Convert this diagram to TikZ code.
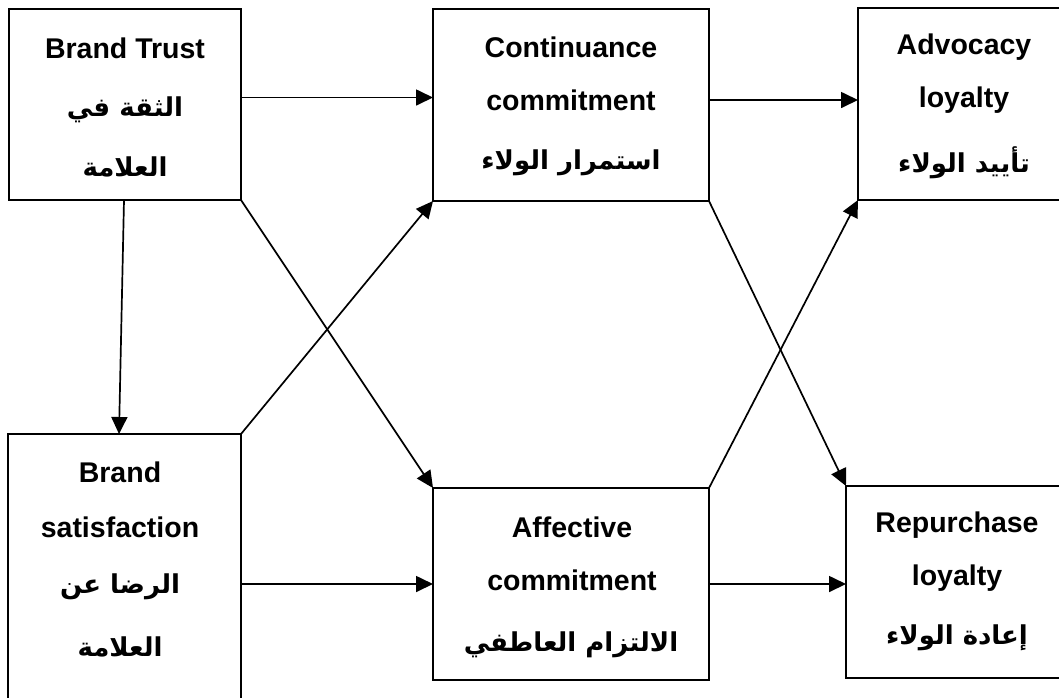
\documentclass[tikz,border=0pt]{standalone}
\usepackage{fontspec}
\setmainfont{Liberation Sans}
\newfontfamily\arabicfont[Script=Arabic]{DejaVu Sans}
\TeXXeTstate=1
\usetikzlibrary{arrows.meta}
\newcommand{\ar}[1]{{\arabicfont\bfseries\beginR #1\endR}}
\begin{document}
\begin{tikzpicture}[x=1pt,y=-1pt,
  box/.style={draw,line width=2pt,rectangle,inner sep=0pt,outer sep=0pt,anchor=north west},
  en/.style={font=\fontsize{28.5}{28.5}\selectfont\bfseries,inner sep=0pt},
  arb/.style={font=\fontsize{26}{26}\selectfont,inner sep=0pt},
  link/.style={line width=1.7pt,-{Triangle[length=17pt,width=16pt]}}]
\useasboundingbox (0,0) rectangle (1059,697);
\clip (0,0) rectangle (1059,697);
% boxes
\node[box,minimum width=232pt,minimum height=191pt] (BT) at (9,9) {};
\node[box,minimum width=276pt,minimum height=192pt] (CC) at (433,9) {};
\node[box,minimum width=210pt,minimum height=192pt] (AL) at (858,8) {};
\node[box,minimum width=233pt,minimum height=300pt] (BS) at (8,434) {};
\node[box,minimum width=276pt,minimum height=192pt] (AC) at (433,488) {};
\node[box,minimum width=220pt,minimum height=192pt] (RL) at (846,486) {};
% texts
\node[en] (t1) at (125,48) {Brand Trust};
\node[arb] (t2) at (125,110) {\ar{الثقة في}};
\node[arb] (t3) at (125,167) {\ar{العلامة}};
\node[en] (t4) at (571,47) {Continuance};
\node[en] (t5) at (571,100) {commitment};
\node[arb] (t6) at (571,163) {\ar{استمرار الولاء}};
\node[en] (t7) at (964,47) {Advocacy};
\node[en] (t8) at (964,100) {loyalty};
\node[arb] (t9) at (964,163) {\ar{تأييد الولاء}};
\node[en] (t10) at (120,472) {Brand};
\node[en] (t11) at (120,527) {satisfaction};
\node[arb] (t12) at (120,587) {\ar{الرضا عن}};
\node[arb] (t13) at (120,647) {\ar{العلامة}};
\node[en] (t14) at (572,527) {Affective};
\node[en] (t15) at (572,580) {commitment};
\node[arb] (t16) at (571,645) {\ar{الالتزام العاطفي}};
\node[en] (t17) at (957,525) {Repurchase};
\node[en] (t18) at (957,578) {loyalty};
\node[arb] (t19) at (957,638) {\ar{إعادة الولاء}};
% connectors
\draw[link] ([yshift=7pt]BT.east) -- ([yshift=7pt]BT.east -| CC.west);
\draw[link] ([yshift=5pt]CC.east) -- ([yshift=5pt]CC.east -| AL.west);
\draw[link] ([xshift=-1pt]BT.south) -- ([xshift=-5.5pt]BS.north);
\draw[link] (BT.south east) -- (AC.north west);
\draw[link] (BS.north east) -- (CC.south west);
\draw[link] (CC.south east) -- (RL.north west);
\draw[link] (AC.north east) -- (AL.south west);
\draw[link] (AC.west -| BS.east) -- (AC.west);
\draw[link] (AC.east) -- (AC.east -| RL.west);
\end{tikzpicture}
\end{document}
